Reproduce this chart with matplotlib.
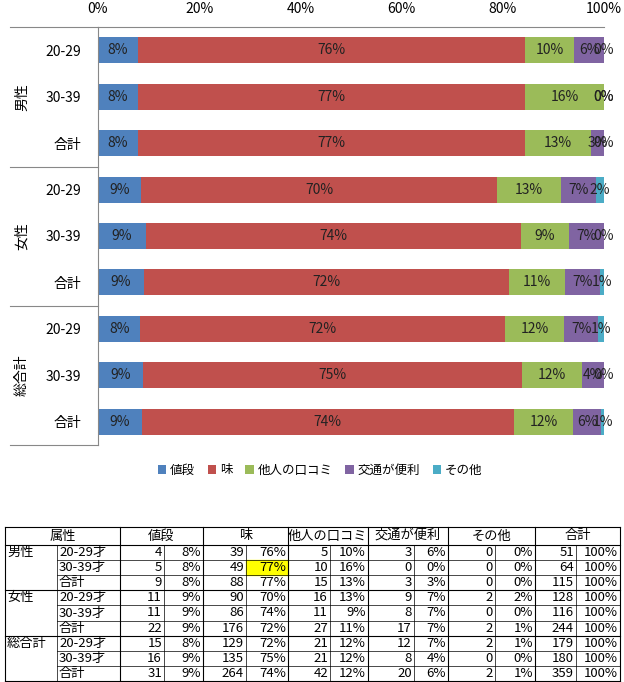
import matplotlib
matplotlib.use("Agg")
import matplotlib.pyplot as plt
import numpy as np

plt.rcParams['font.family'] = ['Noto Sans CJK JP', 'DejaVu Sans']

# ---------------- data ----------------
groups = ['男性', '女性', '総合計']
rows = ['20-29', '30-39', '合計']
row_labels_tbl = ['20-29才', '30-39才', '合計']
series = ['値段', '味', '他人の口コミ', '交通が便利', 'その他']
colors = ['#4F81BD', '#C0504D', '#9BBB59', '#8064A2', '#4BACC6']

price = [4, 5, 9, 11, 11, 22, 15, 16, 31]
taste = [39, 49, 88, 90, 86, 176, 129, 135, 264]
review = [5, 10, 15, 16, 11, 27, 21, 21, 42]
access = [3, 0, 3, 9, 8, 17, 12, 8, 20]
other = [0, 0, 0, 2, 0, 2, 2, 0, 2]
total = [51, 64, 115, 128, 116, 244, 179, 180, 359]

price_pct = [8, 8, 8, 9, 9, 9, 8, 9, 9]
taste_pct = [76, 77, 77, 70, 74, 72, 72, 75, 74]
review_pct = [10, 16, 13, 13, 9, 11, 12, 12, 12]
access_pct = [6, 0, 3, 7, 7, 7, 7, 4, 6]
other_pct = [0, 0, 0, 2, 0, 1, 1, 0, 1]

counts = np.array([price, taste, review, access, other], dtype=float)
pcts = [price_pct, taste_pct, review_pct, access_pct, other_pct]
frac = counts / np.array(total, dtype=float)

W, H = 624, 682
fig = plt.figure(figsize=(6.24, 6.82), dpi=100)

def fx(x): return x / W
def fy(y): return 1 - y / H

# ---------------- chart ----------------
ax = fig.add_axes([fx(98), fy(445), fx(604) - fx(98), fy(27) - fy(445)])
n = len(total)
ypos = np.arange(n)
left = np.zeros(n)
for k in range(5):
    ax.barh(ypos, frac[k], left=left, height=0.56, color=colors[k], label=series[k])
    for i in range(n):
        ax.text(left[i] + frac[k][i] / 2, ypos[i], f'{pcts[k][i]}%',
                ha='center', va='center', fontsize=10, color='#222222')
    left += frac[k]
ax.set_xlim(0, 1)
ax.set_ylim(n - 0.5, -0.5)
ax.xaxis.tick_top()
ax.set_xticks(np.linspace(0, 1, 6))
ax.set_xticklabels([f'{int(v)}%' for v in np.linspace(0, 100, 6)], fontsize=10)
ax.tick_params(axis='x', length=0, pad=8)
ax.set_yticks(ypos)
ax.set_yticklabels(rows * 3, fontsize=10)
ax.tick_params(axis='y', length=0, pad=12)
for s in ['right', 'bottom']:
    ax.spines[s].set_visible(False)
ax.spines['left'].set_color('#888888')
ax.spines['top'].set_color('#888888')

# group separators and labels
for y in [27, 167, 306, 445]:
    fig.add_artist(plt.Line2D([fx(10), fx(98)], [fy(y), fy(y)], color='#888888', lw=0.8))
for g, (y0, y1) in zip(groups, [(27, 167), (167, 306), (306, 445)]):
    fig.text(fx(22), fy((y0 + y1) / 2), g, rotation=90, ha='center', va='center', fontsize=10)

fig.legend(loc='center', bbox_to_anchor=(fx(320), fy(470)), ncol=5, frameon=False,
           fontsize=9, handlelength=0.7, handleheight=0.7, columnspacing=1.0, handletextpad=0.3)

# ---------------- table ----------------
tx0, tx1 = 5, 620
ty0 = 527
hdr_h = 18
rh = (681 - 545) / 9
col_edges = [5, 120, 203, 288, 368, 448, 535, 620]
splits = [57, 164, 246, 330, 414, 495, 576]
headers = ['属性'] + series + ['合計']
lc = 'black'
fs = 9.5

def hline(x0, x1, y, lw=0.8):
    fig.add_artist(plt.Line2D([fx(x0), fx(x1)], [fy(y), fy(y)], color=lc, lw=lw))

def vline(x, y0, y1, lw=0.8):
    fig.add_artist(plt.Line2D([fx(x), fx(x)], [fy(y0), fy(y1)], color=lc, lw=lw))

hline(tx0, tx1, ty0)
hline(tx0, tx1, ty0 + hdr_h)
hline(tx0, tx1, 681)
for gi in range(1, 3):
    hline(tx0, tx1, ty0 + hdr_h + gi * 3 * rh)
for r in range(9):
    if r % 3 != 0:
        hline(57, tx1, ty0 + hdr_h + r * rh, lw=0.5)
for x in col_edges:
    vline(x, ty0, 681)
for x in splits:
    vline(x, ty0 + hdr_h, 681, lw=0.5)

for j, h in enumerate(headers):
    xc = (col_edges[j] + col_edges[j + 1]) / 2
    fig.text(fx(xc), fy(ty0 + hdr_h / 2), h, ha='center', va='center', fontsize=fs)

# highlight cell
hy = ty0 + hdr_h + rh
fig.add_artist(plt.Rectangle((fx(246), fy(hy + rh)), fx(288) - fx(246), fy(hy) - fy(hy + rh),
                             color='#FFFF00', zorder=0))

tbl_cols = [(price, price_pct), (taste, taste_pct), (review, review_pct),
            (access, access_pct), (other, other_pct), (total, [100] * 9)]
for r in range(9):
    yc = fy(ty0 + hdr_h + (r + 0.5) * rh)
    if r % 3 == 0:
        fig.text(fx(7), yc, groups[r // 3], ha='left', va='center', fontsize=fs)
    fig.text(fx(59), yc, row_labels_tbl[r % 3], ha='left', va='center', fontsize=fs)
    for j, (cnt, pc) in enumerate(tbl_cols):
        fig.text(fx(splits[j + 1] - 2), yc, str(cnt[r]), ha='right', va='center', fontsize=fs)
        fig.text(fx(col_edges[j + 2] - 2), yc, f'{pc[r]}%', ha='right', va='center', fontsize=fs)

fig.savefig('out.png', dpi=100)
